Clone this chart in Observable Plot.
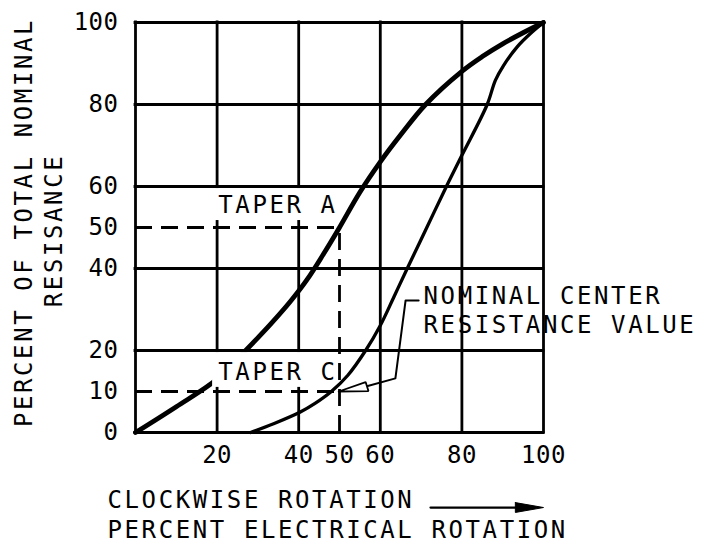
<!DOCTYPE html>
<html>
<head>
<meta charset="utf-8">
<script src="https://cdn.jsdelivr.net/npm/d3@7"></script>
<script src="https://cdn.jsdelivr.net/npm/@observablehq/plot@0.6"></script>
<style>
  html, body { margin: 0; padding: 0; background: #fff; }
  svg { display: block; background: #fff; }
</style>
</head>
<body>
<div id="chart"></div>
<script>
// ---- data ----
const xTicks = [20, 40, 50, 60, 80, 100];
const yTicks = [0, 10, 20, 40, 50, 60, 80, 100];
const gridX = [0, 20, 40, 60, 80, 100];
const gridY = [0, 20, 40, 60, 80, 100];

// Taper A (% rotation vs % resistance)
const taperAx = [0, 10, 20, 27, 33, 38, 42, 46, 50, 55, 60, 65, 71.1, 80, 85, 90, 95, 100];
const taperAy = [0, 6.3, 13, 20, 26.3, 32, 37.2, 43.4, 50, 58.6, 66, 72.6, 80, 88.1, 91.7, 94.8, 97.5, 100];

// Taper C
const taperCx = [28.2, 34, 40.4, 44, 48, 52, 56.4, 60, 63.3, 66.6, 71.4, 76.2, 80, 86.2, 88.2, 90.2, 93.5, 96.8, 100];
const taperCy = [0, 2.2, 5, 7.1, 10, 13.9, 20, 26.1, 33, 40, 50, 60, 67.6, 80, 85.9, 89.5, 94, 97.3, 100];

// nominal center values
const nominalA = [50, 50];
const nominalC = [50, 10];

// annotation texts & anchor values (data units)
const tickFont = 24;
const labelA = {text: "TAPER A", x: 20.3, y: 55.4};
const labelC = {text: "TAPER C", x: 20.3, y: 14.7};
const boxA = {x1: 18.9, x2: 49.8, y1: 51.7, y2: 59.5};
const boxC = {x1: 18.9, x2: 48.5, y1: 11, y2: 19.5};
const nominalLines = ["NOMINAL CENTER", "RESISTANCE VALUE"];
const nominalTextX = 70.6;
const nominalTextY = [33.2, 26.1];
const leaderX = [69.4, 66.2, 63.7, 56.7];
const leaderY = [32.2, 32.2, 13.2, 11.3];
const headX = [49.8, 57.1, 56.4, 49.8];
const headY = [10, 10.1, 12.3, 10];
const yTitle1 = "PERCENT OF TOTAL NOMINAL";
const yTitle2 = "RESISANCE";
const xTitle1 = "CLOCKWISE ROTATION";
const xTitle2 = "PERCENT ELECTRICAL ROTATION";
const xArrowLineX = [72.3, 93.5];
const xArrowY = -18.3;
const xArrowHeadX = [93.1, 100, 93.1, 93.1];
const xArrowHeadY = [-17.1, -18.3, -19.5, -17.1];

// ---- build tables ----
const A = taperAx.map((x, i) => ({x, y: taperAy[i]}));
const C = taperCx.map((x, i) => ({x, y: taperCy[i]}));
const leader = leaderX.map((x, i) => ({x, y: leaderY[i]}));
const head = headX.map((x, i) => ({x, y: headY[i]}));
const arrowHead = xArrowHeadX.map((x, i) => ({x, y: xArrowHeadY[i]}));
const arrowLine = xArrowLineX.map(x => ({x, y: xArrowY}));
const nominalTbl = nominalLines.map((t, i) => ({text: t, x: nominalTextX, y: nominalTextY[i]}));

const black = "#000";
const gridW = 2.8;

const chart = Plot.plot({
  width: 701,
  height: 548,
  marginLeft: 135,
  marginRight: 158,
  marginTop: 22,
  marginBottom: 116,
  x: {domain: [0, 100]},
  y: {domain: [0, 100]},
  style: {fontFamily: "'DejaVu Sans Mono', monospace", fontSize: "24px", background: "#fff", color: "#000"},
  marks: [
    // grid
    Plot.ruleY(gridY, {x1: 0, x2: 100, stroke: black, strokeWidth: gridW, strokeLinecap: "square"}),
    Plot.ruleX(gridX, {y1: 0, y2: 100, stroke: black, strokeWidth: gridW, strokeLinecap: "square"}),
    // dashed nominal guides
    Plot.ruleY([nominalA[1]], {x1: 0, x2: nominalA[0], stroke: black, strokeWidth: gridW, strokeDasharray: "17,9"}),
    Plot.ruleY([nominalC[1]], {x1: 0, x2: nominalC[0], stroke: black, strokeWidth: gridW, strokeDasharray: "17,9"}),
    Plot.ruleX([nominalA[0]], {y1: 0, y2: nominalA[1], stroke: black, strokeWidth: gridW, strokeDasharray: "17,9"}),
    // curves
    Plot.line(A, {x: "x", y: "y", stroke: black, strokeWidth: 4.8, curve: "catmull-rom"}),
    Plot.line(C, {x: "x", y: "y", stroke: black, strokeWidth: 3.3, curve: "catmull-rom"}),
    // label backgrounds
    Plot.rect([boxA, boxC], {x1: "x1", x2: "x2", y1: "y1", y2: "y2", fill: "#fff"}),
    // taper labels
    Plot.text([labelA, labelC], {x: "x", y: "y", text: "text", textAnchor: "start", fill: black, fontSize: tickFont}),
    // nominal center annotation
    Plot.text(nominalTbl, {x: "x", y: "y", text: "text", textAnchor: "start", fill: black, fontSize: tickFont}),
    Plot.line(leader, {x: "x", y: "y", stroke: black, strokeWidth: 2, curve: "linear"}),
    Plot.line(head, {x: "x", y: "y", stroke: black, strokeWidth: 1.8, fill: "#fff", curve: "linear", strokeLinejoin: "miter"}),
    // axes
    Plot.axisX(xTicks, {tickSize: 0, tickPadding: 13, fontSize: tickFont, label: null}),
    Plot.axisY(yTicks, {tickSize: 0, tickPadding: 17, fontSize: tickFont, label: null}),
    // axis titles
    Plot.text([yTitle1], {text: d => d, frameAnchor: "left", textAnchor: "middle", rotate: -90, dx: -111, dy: -5, fill: black, fontSize: tickFont}),
    Plot.text([yTitle2], {text: d => d, frameAnchor: "left", textAnchor: "middle", rotate: -90, dx: -81, dy: 3, fill: black, fontSize: tickFont}),
    Plot.text([xTitle1], {text: d => d, frameAnchor: "bottom-left", textAnchor: "start", dx: -28, dy: 75, fill: black, fontSize: tickFont}),
    Plot.text([xTitle2], {text: d => d, frameAnchor: "bottom-left", textAnchor: "start", dx: -28, dy: 105, fill: black, fontSize: tickFont}),
    Plot.line(arrowLine, {x: "x", y: "y", stroke: black, strokeWidth: 2.2}),
    Plot.line(arrowHead, {x: "x", y: "y", stroke: black, strokeWidth: 1, fill: black, curve: "linear"})
  ]
});
// letter spacing: wide for titles/annotations, narrow for tick labels
d3.select(chart).selectAll("text").style("letter-spacing", "2.6px");
d3.select(chart).selectAll("g[aria-label$='tick label'] text").style("letter-spacing", "0.5px");
document.getElementById("chart").appendChild(chart);
</script>
</body>
</html>
